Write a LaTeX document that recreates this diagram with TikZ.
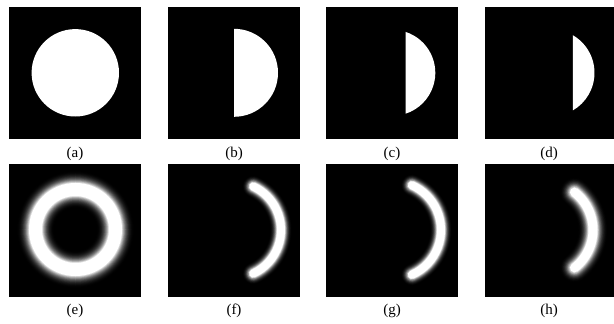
\documentclass[tikz,border=0pt]{standalone}
\usepackage{fontspec}
\setmainfont{Liberation Serif}
\usepackage{tikz}
\usetikzlibrary{positioning,calc}
\tikzset{
  panel/.style={fill=black},
  blob/.style={fill=white},
  sublabel/.style={font=\fontsize{15}{17}\selectfont,inner sep=0pt,anchor=center},
  glowline/.style={line cap=round}
}
% soft glow: outer width, core width, path
\newcommand{\glowpath}[3]{%
  \foreach \k in {0,...,18}{%
    \pgfmathsetmacro{\lw}{#1-(#1-#2)*\k/18}%
    \pgfmathsetmacro{\sh}{100*(\k/18)^2.6}%
    \draw[glowline,line width=\lw pt,color=white!\sh!black] #3;
  }}

\begin{document}
\begin{tikzpicture}[x=1pt,y=-1pt]
  \fill[white] (0,0) rectangle (614,324);
  \useasboundingbox (0,0) rectangle (614,324);

  %% TOP ROW --- MASKS
  \fill[panel] (9,7) rectangle (141,138.5);
  \fill[panel] (168,7) rectangle (300,138.5);
  \fill[panel] (326,7) rectangle (458,138.5);
  \fill[panel] (485,7) rectangle (614,138.5);

  \fill[blob] (75.3,72.8) circle[radius=43.7pt];
  \fill[blob] (234,72.8) ++(90:44pt) arc[start angle=90,end angle=-90,radius=44pt] -- cycle;
  \fill[blob] (392.3,72.8) ++(72:43pt) arc[start angle=72,end angle=-72,radius=43pt] -- cycle;
  \fill[blob] (551,72.8) ++(60:43.5pt) arc[start angle=60,end angle=-60,radius=43.5pt] -- cycle;

  \node[sublabel] (lab_a) at (75,154) {(a)};
  \node[sublabel] (lab_b) at (234,154) {(b)};
  \node[sublabel] (lab_c) at (392,154) {(c)};
  \node[sublabel] (lab_d) at (549,154) {(d)};

  %% BOTTOM ROW --- GLOW CONTOURS
  \fill[panel] (9,164) rectangle (141,297);
  \fill[panel] (168,164) rectangle (300,297);
  \fill[panel] (326,164) rectangle (458,297);
  \fill[panel] (485,164) rectangle (614,297);

  \begin{scope}
    \clip (9,164) rectangle (141,297);
    \glowpath{40}{13}{(75.5,229.5) circle[radius=40pt]}
  \end{scope}
  \glowpath{24}{8}{(233,230) ++(-65:48pt) arc[start angle=-65,end angle=65,radius=48pt]}
  \glowpath{24}{8}{(392,230) ++(-66:49pt) arc[start angle=-66,end angle=66,radius=49pt]}
  \glowpath{32}{9}{(545,230) ++(-52:48pt) arc[start angle=-52,end angle=52,radius=48pt]}

  \node[sublabel] (lab_e) at (75,311) {(e)};
  \node[sublabel] (lab_f) at (234,311) {(f)};
  \node[sublabel] (lab_g) at (392,311) {(g)};
  \node[sublabel] (lab_h) at (549,311) {(h)};
\end{tikzpicture}
\end{document}
